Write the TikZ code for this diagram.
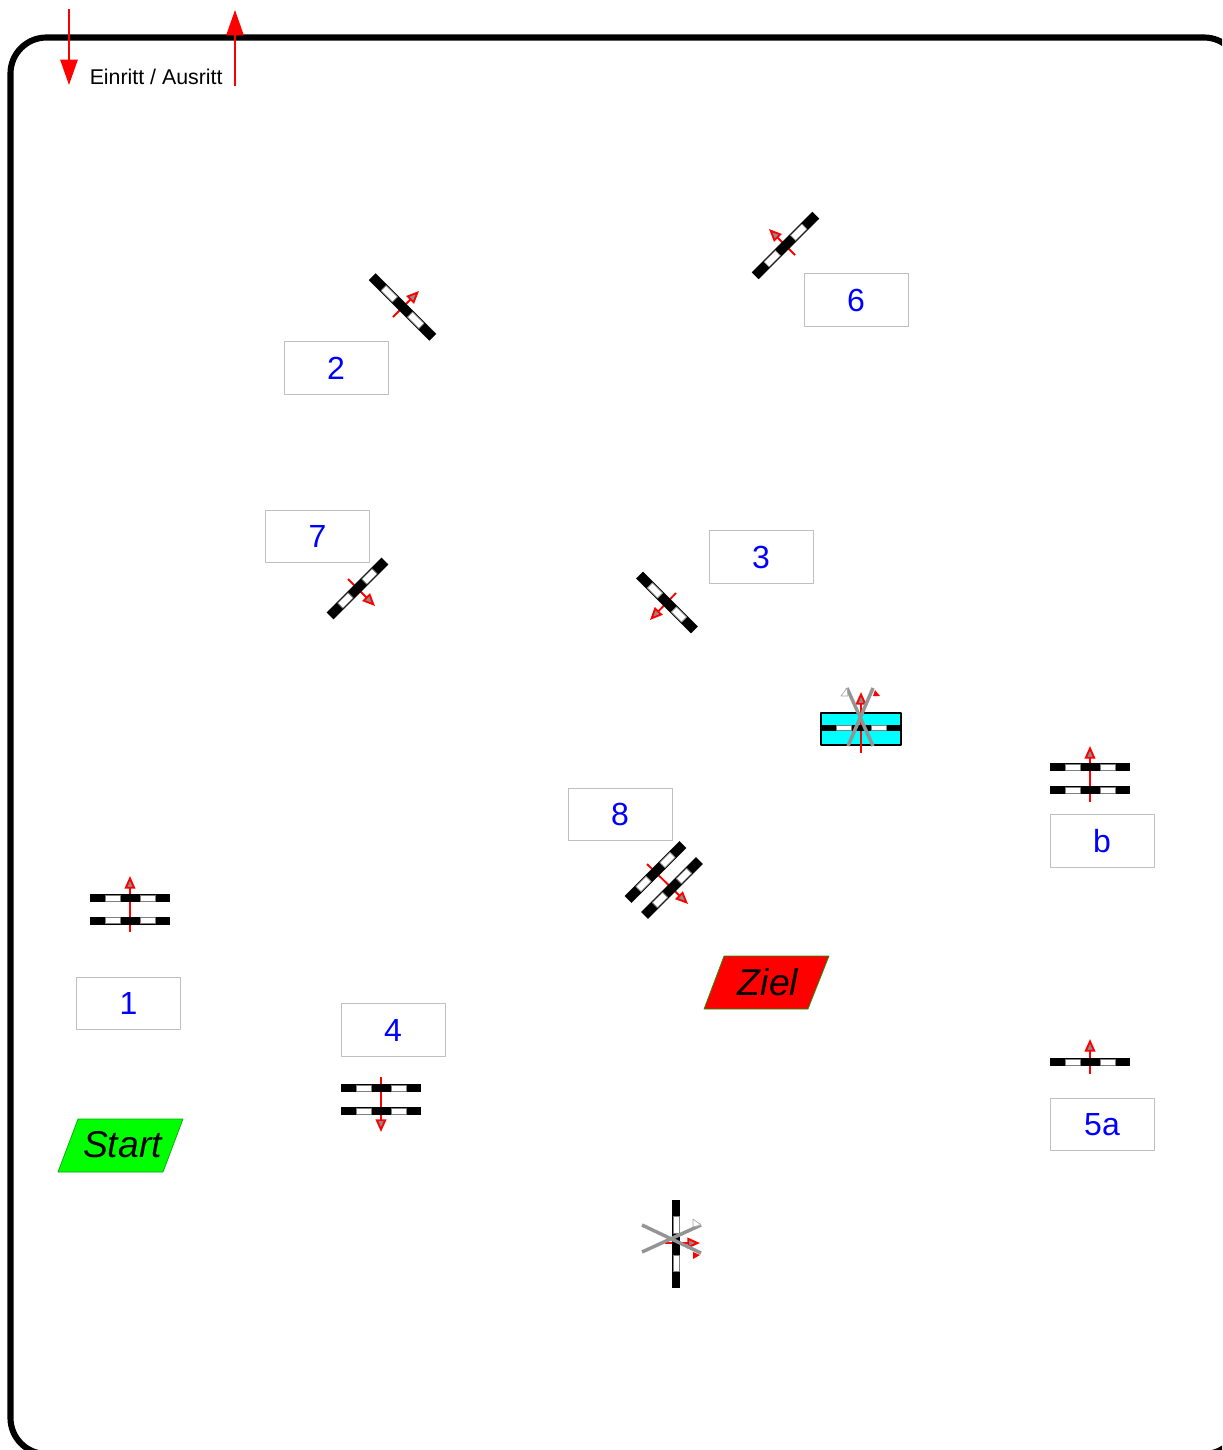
\documentclass[tikz,border=0pt]{standalone}
\usepackage{fontspec}
\setmainfont{Liberation Sans}
\usetikzlibrary{arrows.meta}
\definecolor{gatered}{RGB}{255,0,0}
\definecolor{gatecyan}{RGB}{0,255,255}
\definecolor{flaggreen}{RGB}{0,255,0}
\tikzset{
	numbox/.style={draw=black!25,line width=0.7pt,minimum width=78pt,minimum height=39.5pt,inner sep=0pt,text=blue,font=\fontsize{24}{24}\selectfont},
	flagbox/.style={draw=black!35!green,line width=0.5pt},
	flagtext/.style={inner sep=0pt,font=\fontsize{28}{28}\selectfont\itshape},
	gatearrow/.style={draw=gatered,line width=1.4pt,-{Triangle[length=9.5pt,width=8pt,fill=black!45,line width=1.4pt]}},
	entryarrow/.style={draw=gatered,line width=1.2pt,-{Triangle[length=19pt,width=13pt,fill=gatered]}},
	crossline/.style={draw=black!42,line width=2.6pt},
	pics/gate/.style={code={
		\fill[black] (-40,-4) rectangle (40,4);
		\filldraw[fill=white,draw=black!50,line width=0.6pt] (-25,-3) rectangle (-10,3);
		\filldraw[fill=white,draw=black!50,line width=0.6pt] (10,-3) rectangle (25,3);
	}},
}
\begin{document}
\begin{tikzpicture}[x=0.75pt,y=-0.75pt,>=stealth,line join=round]
	\useasboundingbox (0,0) rectangle (1222,1450);
	\clip (0,0) rectangle (1222,1450);
	\draw[line width=4.6pt,rounded corners=27pt] (10.5,37.5) rectangle (1240,1454);
	% entry and exit
	\coordinate (ina) at (69,9);
	\coordinate (inb) at (69,85);
	\coordinate (outa) at (235,86);
	\coordinate (outb) at (235,10);
	\draw[entryarrow] (ina) -- (inb);
	\draw[entryarrow] (outa) -- (outb);
	\node[inner sep=0pt,anchor=west,font=\fontsize{16}{16}\selectfont] (entry) at (89.5,77) {Einritt / Ausritt};
	% arrows lie under the gates
	\coordinate (a1) at (130,932);    \coordinate (b1) at (130,876);
	\coordinate (a2) at (393,317);    \coordinate (b2) at (419,291);
	\coordinate (a3) at (676,593);    \coordinate (b3) at (650,620);
	\coordinate (a4) at (381,1077);   \coordinate (b4) at (381,1132);
	\coordinate (a5) at (1090,1074);  \coordinate (b5) at (1090,1039);
	\coordinate (a6) at (795,255);    \coordinate (b6) at (769,229);
	\coordinate (a7) at (348,579);    \coordinate (b7) at (375,606);
	\coordinate (a8) at (647,864);    \coordinate (b8) at (688,904);
	\coordinate (ab) at (1090,802);   \coordinate (bb) at (1090,746);
	\draw[gatearrow] (a1) -- (b1);
	\draw[gatearrow] (a2) -- (b2);
	\draw[gatearrow] (a3) -- (b3);
	\draw[gatearrow] (a4) -- (b4);
	\draw[gatearrow] (a5) -- (b5);
	\draw[gatearrow] (a6) -- (b6);
	\draw[gatearrow] (a7) -- (b7);
	\draw[gatearrow] (a8) -- (b8);
	\draw[gatearrow] (ab) -- (bb);
	% gates
	\pic (g1a) at (130,898) {gate};
	\pic (g1b) at (130,920.5) {gate};
	\pic[rotate=-45,xscale=1.07,yscale=1.2] (g2) at (402.5,307) {gate};
	\pic[rotate=-45,xscale=0.97,yscale=1.2] (g3) at (667,602.5) {gate};
	\pic (g4a) at (381,1088) {gate};
	\pic (g4b) at (381,1111) {gate};
	\pic (g5) at (1090,1062) {gate};
	\pic[rotate=45,xscale=1.07,yscale=1.2] (g6) at (785.5,245.5) {gate};
	\pic[rotate=45,xscale=0.97,yscale=1.2] (g7) at (357.5,588.5) {gate};
	\pic[rotate=45,xscale=0.97,yscale=1.2] (g8a) at (655.5,872) {gate};
	\pic[rotate=45,xscale=0.97,yscale=1.2] (g8b) at (672,888) {gate};
	\pic (gba) at (1090,767) {gate};
	\pic (gbb) at (1090,790) {gate};
	% cyan gate
	\coordinate (ca) at (861,753);
	\coordinate (cb) at (861,692);
	\draw[fill=gatecyan,line width=1.2pt] (821,713) rectangle (901,745);
	\draw[gatearrow] (ca) -- (cb);
	\pic[yscale=0.8] (gc) at (861,728) {gate};
	\draw[crossline] (848,746) -- (873,688);
	\draw[crossline] (873,746) -- (847,688);
	\filldraw[fill=white,draw=black!35,line width=0.5pt] (841,696) -- (848,696) -- (847,688) -- cycle;
	\fill[gatered] (873,696) -- (880,696) -- (875,690) -- cycle;
	% crossed out gate
	\coordinate (xa) at (665,1243);
	\coordinate (xb) at (700,1243);
	\draw[gatearrow] (xa) -- (xb);
	\pic[rotate=-90,xscale=1.1] (gx) at (676,1244) {gate};
	\draw[crossline] (642,1225) -- (701,1253);
	\draw[crossline] (642,1252) -- (701,1225);
	\filldraw[fill=white,draw=black!35,line width=0.5pt] (693,1219) -- (693,1227) -- (701,1225) -- cycle;
	\fill[gatered] (693,1252) -- (693,1259) -- (700,1255) -- cycle;
	% numbers
	\node[numbox] (n1) at (128.5,1003.5) {1};
	\node[numbox] (n2) at (336,368) {2};
	\node[numbox] (n3) at (761,557) {3};
	\node[numbox] (n4) at (393,1030) {4};
	\node[numbox] (n5) at (1102,1124.5) {5a};
	\node[numbox] (n6) at (856,300) {6};
	\node[numbox] (n7) at (317.5,536.5) {7};
	\node[numbox] (n8) at (620,814.5) {8};
	\node[numbox] (nb) at (1102,841) {b};
	% start and finish
	\filldraw[flagbox,fill=flaggreen] (78,1119) -- (183,1119) -- (163,1172) -- (58,1172) -- cycle;
	\node[flagtext] (start) at (122.5,1145) {Start};
	\filldraw[flagbox,fill=red] (724,956) -- (829,956) -- (808,1009) -- (704,1009) -- cycle;
	\node[flagtext] (ziel) at (768,982) {Ziel};
\end{tikzpicture}
\end{document}
